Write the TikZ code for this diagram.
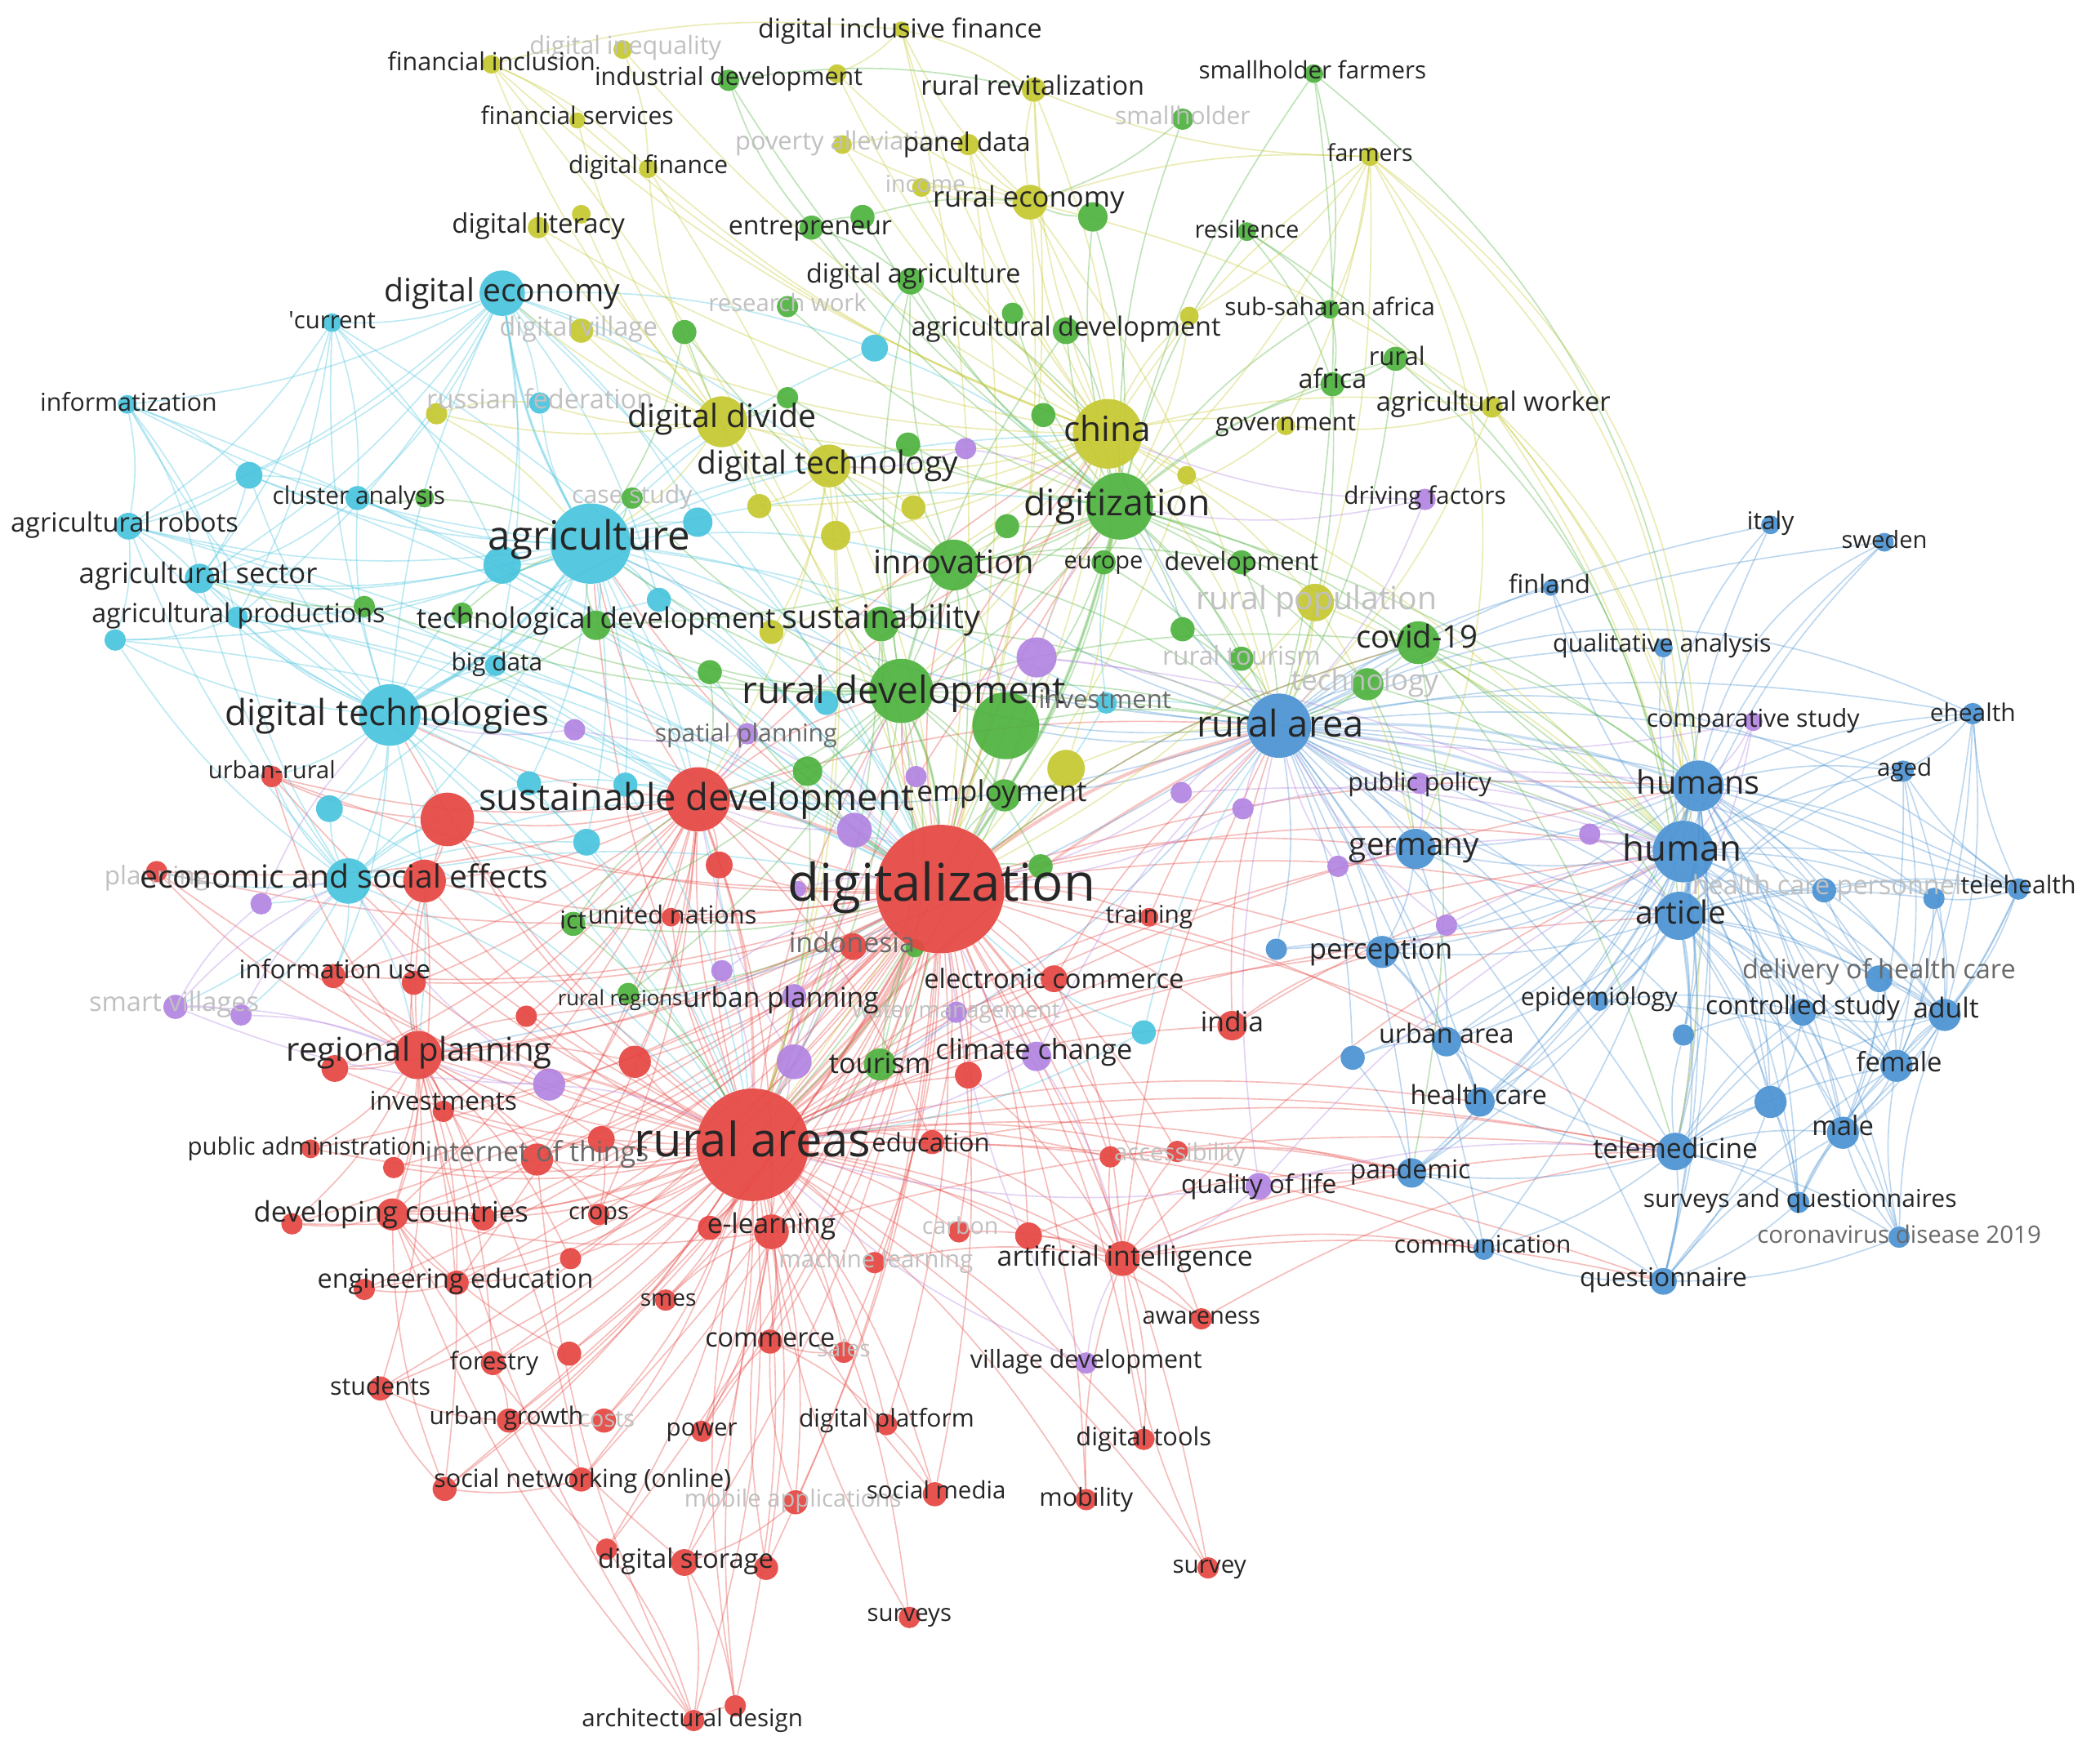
\documentclass[tikz,border=0pt]{standalone}
\usepackage{fontspec}
\setmainfont{Open Sans}
\usepackage{graphicx}
\pgfdeclarelayer{edges}
\pgfdeclarelayer{fadel}
\pgfdeclarelayer{labels}
\pgfsetlayers{edges,main,fadel,labels}
\definecolor{cR}{RGB}{230,70,66}
\definecolor{cG}{RGB}{78,178,62}
\definecolor{cB}{RGB}{74,146,210}
\definecolor{cY}{RGB}{198,200,48}
\definecolor{cP}{RGB}{178,132,226}
\definecolor{cC}{RGB}{72,196,222}
\definecolor{labc}{RGB}{38,38,38}
\definecolor{fadec}{RGB}{192,192,192}
\definecolor{midc}{RGB}{105,105,105}
\tikzset{
  dot/.style={circle,draw=none,inner sep=0pt,fill opacity=0.92},
  lab/.style={inner sep=0pt,text=labc},
  edg/.style={line width=1pt,draw opacity=0.36},
}
\newcommand\dt[5]{\node[dot,fill=#5,minimum size=2*#4pt] (#1) at (#2,#3) {};}
\newcommand\lb[5]{\begin{pgfonlayer}{labels}\node[lab] (#1-l) at (#2,#3) {\resizebox{#4pt}{!}{\vphantom{dg}#5}};\end{pgfonlayer}}
\newcommand\lbm[5]{\begin{pgfonlayer}{labels}\node[lab,text=midc] (#1-l) at (#2,#3) {\resizebox{#4pt}{!}{\vphantom{dg}#5}};\end{pgfonlayer}}
\newcommand\lbf[5]{\begin{pgfonlayer}{fadel}\node[lab,text=fadec] (#1-l) at (#2,#3) {\resizebox{#4pt}{!}{\vphantom{dg}#5}};\end{pgfonlayer}}
\begin{document}
\begin{tikzpicture}[x=1pt,y=-1pt]
\begin{pgfonlayer}{edges}
\fill[white] (0,0) rectangle (1568,1310);
\end{pgfonlayer}
\useasboundingbox (0,0) rectangle (1568,1310);
% ---------------- yellow
\dt{dif}{673}{22}{6}{cY} \lb{dif}{672}{23}{212}{digital inclusive finance}
\dt{dineq}{465}{37}{7}{cY} \lbf{dineq}{467}{36}{143}{digital inequality}
\dt{finc}{367}{48}{7}{cY} \lb{finc}{367}{48}{155}{financial inclusion}
\dt{xy1}{625}{55}{7}{cY}
\dt{rrev}{772}{67}{9}{cY} \lb{rrev}{771}{66}{167}{rural revitalization}
\dt{fserv}{431}{90}{6}{cY} \lb{fserv}{431}{88}{144}{financial services}
\dt{pov}{629}{108}{7}{cY} \lbf{pov}{629}{107}{160}{poverty alleviation}
\dt{panel}{723}{108}{8}{cY} \lb{panel}{722}{108}{95}{panel data}
\dt{dfin}{484}{126}{7}{cY} \lb{dfin}{484}{125}{119}{digital finance}
\dt{income}{688}{140}{7}{cY} \lbf{income}{691}{139}{60}{income}
\dt{reco}{769}{151}{13}{cY} \lb{reco}{768}{149}{143}{rural economy}
\dt{farmers}{1023}{117}{7}{cY} \lb{farmers}{1023}{116}{64}{farmers}
\dt{xy2}{434}{160}{7}{cY}
\dt{dlit}{402}{170}{8}{cY} \lb{dlit}{402}{169}{129}{digital literacy}
\dt{dvill}{434}{247}{9}{cY} \lbf{dvill}{432}{246}{118}{digital village}
\dt{xy3}{888}{236}{7}{cY}
\dt{xy4}{326}{309}{8}{cY}
\dt{ddiv}{539}{315}{19}{cY} \lb{ddiv}{539}{313}{141}{digital divide}
\dt{gov}{960}{318}{7}{cY} \lb{gov}{960}{317}{105}{government}
\dt{agw}{1114}{304}{8}{cY} \lb{agw}{1115}{302}{175}{agricultural worker}
\dt{china}{827}{324}{26}{cY} \lb{china}{827}{323}{65}{china}
\dt{xy5}{886}{355}{7}{cY}
\dt{dtech}{619}{348}{16}{cY} \lb{dtech}{618}{348}{195}{digital technology}
\dt{xy6}{567}{378}{9}{cY} \dt{xy7}{682}{379}{9}{cY} \dt{xy8}{624}{400}{11}{cY} \dt{xy9}{576}{472}{9}{cY}
\dt{rpop}{982}{450}{14}{cY} \lbf{rpop}{983}{449}{180}{rural population}
\dt{xy10}{796}{574}{14}{cY}
% ---------------- green
\dt{indd}{544}{60}{8}{cG} \lb{indd}{544}{59}{200}{industrial development}
\dt{sfarm}{981}{55}{7}{cG} \lb{sfarm}{980}{54}{170}{smallholder farmers}
\dt{shold}{883}{89}{8}{cG} \lbf{shold}{883}{88}{101}{smallholder}
\dt{entr}{606}{170}{9}{cG} \lb{entr}{605}{170}{122}{entrepreneur}
\dt{xg1}{644}{162}{9}{cG}
\dt{xg2}{816}{162}{11}{cG}
\dt{res}{931}{173}{7}{cG} \lb{res}{931}{173}{78}{resilience}
\dt{dagr}{680}{210}{10}{cG} \lb{dagr}{682}{206}{160}{digital agriculture}
\dt{rwork}{588}{229}{8}{cG} \lbf{rwork}{588}{228}{118}{research work}
\dt{xg3}{511}{248}{9}{cG} \dt{xg4}{756}{234}{8}{cG}
\dt{adev}{796}{247}{10}{cG} \lb{adev}{796}{246}{231}{agricultural development}
\dt{ssa}{993}{231}{7}{cG} \lb{ssa}{993}{231}{157}{sub-saharan africa}
\dt{rural}{1042}{268}{9}{cG} \lb{rural}{1043}{268}{42}{rural}
\dt{africa}{995}{287}{9}{cG} \lb{africa}{995}{285}{51}{africa}
\dt{xg5}{588}{297}{8}{cG} \dt{xg6}{678}{332}{9}{cG} \dt{xg7}{779}{310}{9}{cG}
\dt{digz}{836}{378}{25}{cG} \lb{digz}{834}{378}{139}{digitization}
\dt{xg8}{752}{393}{9}{cG}
\dt{innov}{712}{422}{19}{cG} \lb{innov}{712}{422}{120}{innovation}
\dt{europe}{824}{420}{9}{cG} \lb{europe}{824}{420}{59}{europe}
\dt{devt}{927}{420}{9}{cG} \lb{devt}{927}{421}{115}{development}
\dt{cs}{472}{372}{8}{cG} \lbf{cs}{472}{371}{90}{case study}
\dt{xg9}{317}{372}{7}{cG} \dt{xg10}{272}{453}{8}{cG} \dt{xg11}{345}{458}{8}{cG}
\dt{techd}{445}{467}{11}{cG} \lb{techd}{445}{464}{268}{technological development}
\dt{sust}{658}{466}{13}{cG} \lb{sust}{658}{463}{148}{sustainability}
\dt{xg12}{530}{502}{9}{cG}
\dt{rdev}{673}{516}{24}{cG} \lb{rdev}{675}{518}{242}{rural development}
\dt{xg13}{751}{542}{25}{cG}
\dt{xg14}{603}{576}{11}{cG}
\dt{empl}{750}{594}{12}{cG} \lb{empl}{748}{593}{127}{employment}
\dt{xg15}{777}{647}{9}{cG}
\dt{ict}{428}{690}{9}{cG} \lb{ict}{428}{689}{20}{ict}
\dt{xg16}{683}{708}{7}{cG}
\dt{rreg}{469}{742}{8}{cG} \lb{rreg}{463}{747}{93}{rural regions}
\dt{tour}{657}{795}{12}{cG} \lb{tour}{657}{796}{76}{tourism}
\dt{xg17}{883}{470}{9}{cG}
\dt{rtour}{927}{492}{9}{cG} \lbf{rtour}{927}{492}{118}{rural tourism}
\dt{covid}{1059}{480}{16}{cG} \lb{covid}{1058}{478}{91}{covid-19}
\dt{tech}{1021}{511}{12}{cG} \lbf{tech}{1019}{510}{110}{technology}
% ---------------- cyan
\dt{deco}{375}{219}{17}{cC} \lb{deco}{375}{219}{176}{digital economy}
\dt{curr}{248}{241}{7}{cC} \lb{curr}{248}{241}{65}{\textquotesingle current}
\dt{xc1}{653}{260}{10}{cC}
\dt{info}{95}{302}{7}{cC} \lb{info}{96}{302}{132}{informatization}
\dt{rusf}{403}{301}{8}{cC} \lbf{rusf}{403}{300}{169}{russian federation}
\dt{xc2}{186}{355}{10}{cC}
\dt{clus}{267}{372}{9}{cC} \lb{clus}{268}{372}{129}{cluster analysis}
\dt{arob}{96}{393}{10}{cC} \lb{arob}{93}{392}{170}{agricultural robots}
\dt{agri}{441}{406}{30}{cC} \lb{agri}{440}{403}{151}{agriculture}
\dt{xc3}{375}{422}{14}{cC}
\dt{xc4}{521}{390}{11}{cC}
\dt{asec}{149}{432}{11}{cC} \lb{asec}{148}{430}{178}{agricultural sector}
\dt{aprod}{177}{461}{8}{cC} \lb{aprod}{178}{460}{219}{agricultural productions}
\dt{xc5}{86}{478}{8}{cC}
\dt{xc6}{492}{448}{9}{cC}
\dt{bigd}{370}{497}{8}{cC} \lb{bigd}{371}{496}{68}{big data}
\dt{dtechs}{291}{534}{23}{cC} \lb{dtechs}{289}{535}{242}{digital technologies}
\dt{xc7}{246}{604}{10}{cC} \dt{xc8}{395}{585}{9}{cC} \dt{xc9}{467}{586}{9}{cC} \dt{xc10}{438}{629}{10}{cC} \dt{xc11}{617}{525}{9}{cC}
\dt{econ}{260}{658}{17}{cC} \lb{econ}{257}{657}{305}{economic and social effects}
\dt{invt}{826}{525}{8}{cC} \lbm{invt}{825}{524}{99}{investment}
\dt{xc12}{854}{771}{9}{cC}
% ---------------- red
\dt{urr}{203}{580}{8}{cR} \lb{urr}{203}{577}{95}{urban-rural}
\dt{xr1}{334}{612}{20}{cR}
\dt{sdev}{521}{597}{24}{cR} \lb{sdev}{520}{598}{325}{sustainable development}
\dt{xr2}{317}{658}{16}{cR}
\dt{plan}{117}{651}{8}{cR} \lbf{plan}{117}{656}{78}{planning}
\dt{xr3}{537}{646}{10}{cR}
\dt{dz}{702}{664}{48}{cR} \lb{dz}{703}{663}{230}{digitalization}
\dt{un}{501}{685}{7}{cR} \lb{un}{502}{685}{126}{united nations}
\dt{indo}{637}{707}{10}{cR} \lbm{indo}{636}{706}{94}{indonesia}
\dt{infu}{249}{729}{9}{cR} \lb{infu}{250}{726}{143}{information use}
\dt{xr4}{309}{734}{9}{cR}
\dt{ecom}{787}{731}{10}{cR} \lb{ecom}{787}{733}{194}{electronic commerce}
\dt{xr5}{393}{759}{8}{cR}
\dt{rplan}{312}{788}{18}{cR} \lb{rplan}{313}{786}{198}{regional planning}
\dt{xr6}{250}{798}{10}{cR}
\dt{xr7}{474}{793}{12}{cR}
\dt{xr8}{723}{803}{10}{cR}
\dt{inv}{331}{830}{8}{cR} \lb{inv}{331}{824}{110}{investments}
\dt{pubadm}{232}{858}{7}{cR} \lb{pubadm}{229}{858}{178}{public administration}
\dt{xr9}{294}{872}{8}{cR}
\dt{iot}{401}{866}{12}{cR} \lbm{iot}{401}{862}{167}{internet of things}
\dt{xr10}{449}{851}{10}{cR}
\dt{ra}{562}{855}{42}{cR} \lb{ra}{562}{855}{177}{rural areas}
\dt{edu}{696}{853}{9}{cR} \lb{edu}{695}{855}{88}{education}
\dt{train}{858}{685}{7}{cR} \lb{train}{858}{685}{65}{training}
\dt{india}{920}{766}{11}{cR} \lb{india}{920}{765}{47}{india}
\dt{xr11}{829}{864}{8}{cR}
\dt{acc}{879}{860}{8}{cR} \lbf{acc}{881}{862}{98}{accessibility}
\dt{devc}{293}{907}{12}{cR} \lb{devc}{292}{907}{205}{developing countries}
\dt{xr12}{218}{914}{8}{cR} \dt{xr13}{361}{910}{9}{cR}
\dt{crops}{447}{907}{8}{cR} \lb{crops}{447}{906}{45}{crops}
\dt{elearn}{576}{920}{13}{cR} \lb{elearn}{576}{916}{96}{e-learning}
\dt{xr14}{530}{917}{9}{cR}
\dt{carbon}{716}{920}{8}{cR} \lbf{carbon}{717}{917}{57}{carbon}
\dt{xr15}{768}{923}{10}{cR}
\dt{ai}{838}{940}{13}{cR} \lb{ai}{840}{940}{191}{artificial intelligence}
\dt{ml}{653}{943}{8}{cR} \lbf{ml}{654}{942}{145}{machine learning}
\dt{xr16}{426}{940}{8}{cR}
\dt{engedu}{341}{958}{9}{cR} \lb{engedu}{340}{957}{206}{engineering education}
\dt{xr17}{272}{963}{8}{cR}
\dt{smes}{497}{971}{8}{cR} \lb{smes}{499}{971}{42}{smes}
\dt{awar}{897}{985}{8}{cR} \lb{awar}{897}{984}{88}{awareness}
\dt{comm}{575}{1002}{9}{cR} \lb{comm}{575}{1001}{97}{commerce}
\dt{sales}{630}{1010}{8}{cR} \lbf{sales}{630}{1009}{40}{sales}
\dt{xr18}{425}{1011}{9}{cR}
\dt{forest}{368}{1018}{9}{cR} \lb{forest}{369}{1018}{66}{forestry}
\dt{stud}{284}{1037}{9}{cR} \lb{stud}{284}{1037}{75}{students}
\dt{ugrow}{380}{1061}{9}{cR} \lb{ugrow}{378}{1059}{115}{urban growth}
\dt{costs}{451}{1061}{9}{cR} \lbf{costs}{453}{1061}{42}{costs}
\dt{power}{524}{1069}{8}{cR} \lb{power}{524}{1068}{53}{power}
\dt{dplat}{662}{1064}{8}{cR} \lb{dplat}{662}{1061}{131}{digital platform}
\dt{dtools}{854}{1075}{8}{cR} \lb{dtools}{854}{1075}{101}{digital tools}
\dt{snet}{434}{1105}{9}{cR} \lb{snet}{435}{1106}{222}{social networking (online)}
\dt{xr19}{332}{1112}{9}{cR}
\dt{smed}{698}{1116}{9}{cR} \lb{smed}{699}{1115}{104}{social media}
\dt{mapp}{594}{1122}{9}{cR} \lbf{mapp}{592}{1121}{162}{mobile applications}
\dt{mob}{811}{1120}{8}{cR} \lb{mob}{811}{1120}{70}{mobility}
\dt{dstor}{511}{1167}{10}{cR} \lb{dstor}{512}{1166}{131}{digital storage}
\dt{xr20}{453}{1157}{8}{cR} \dt{xr21}{572}{1171}{9}{cR}
\dt{survey}{902}{1171}{8}{cR} \lb{survey}{903}{1170}{55}{survey}
\dt{surveys}{679}{1208}{8}{cR} \lb{surveys}{679}{1206}{63}{surveys}
\dt{arch}{518}{1285}{8}{cR} \lb{arch}{517}{1285}{165}{architectural design}
\dt{xr22}{549}{1274}{8}{cR}
% ---------------- purple
\dt{xp1}{721}{335}{8}{cP}
\dt{drv}{1064}{373}{8}{cP} \lb{drv}{1064}{372}{121}{driving factors}
\dt{xp2}{774}{491}{15}{cP}
\dt{xp3}{429}{545}{8}{cP}
\dt{splan}{558}{548}{8}{cP} \lbm{splan}{557}{549}{136}{spatial planning}
\dt{xp4}{684}{580}{8}{cP}
\dt{xp5}{638}{620}{13}{cP}
\dt{xp6}{596}{664}{6}{cP}
\dt{xp7}{195}{675}{8}{cP}
\dt{svill}{131}{752}{9}{cP} \lbf{svill}{130}{750}{127}{smart villages}
\dt{xp8}{180}{758}{8}{cP}
\dt{xp9}{539}{725}{8}{cP}
\dt{uplan}{593}{744}{9}{cP} \lb{uplan}{583}{747}{146}{urban planning}
\dt{wm}{714}{756}{8}{cP} \lbf{wm}{714}{756}{155}{water management}
\dt{clim}{774}{789}{11}{cP} \lb{clim}{772}{786}{147}{climate change}
\dt{xp10}{593}{793}{13}{cP}
\dt{xp11}{410}{810}{12}{cP}
\dt{xp12}{882}{592}{8}{cP} \dt{xp13}{928}{604}{8}{cP}
\dt{pubpol}{1060}{585}{8}{cP} \lb{pubpol}{1060}{586}{107}{public policy}
\dt{xp14}{999}{647}{8}{cP} \dt{xp15}{1080}{691}{8}{cP} \dt{xp16}{1187}{623}{8}{cP}
\dt{qol}{940}{886}{10}{cP} \lb{qol}{940}{886}{116}{quality of life}
\dt{vdev}{811}{1018}{8}{cP} \lb{vdev}{811}{1017}{173}{village development}
\dt{comp}{1309}{539}{7}{cP} \lb{comp}{1309}{538}{159}{comparative study}
% ---------------- blue
\dt{finl}{1158}{439}{6}{cB} \lb{finl}{1157}{438}{61}{finland}
\dt{italy}{1322}{392}{7}{cB} \lb{italy}{1322}{391}{35}{italy}
\dt{sweden}{1407}{405}{7}{cB} \lb{sweden}{1407}{405}{64}{sweden}
\dt{qual}{1242}{484}{7}{cB} \lb{qual}{1241}{482}{163}{qualitative analysis}
\dt{rarea}{955}{542}{24}{cB} \lb{rarea}{956}{543}{125}{rural area}
\dt{germ}{1057}{634}{15}{cB} \lb{germ}{1056}{633}{97}{germany}
\dt{xb1}{953}{709}{8}{cB}
\dt{perc}{1032}{711}{12}{cB} \lb{perc}{1031}{711}{107}{perception}
\dt{epid}{1194}{748}{7}{cB} \lb{epid}{1194}{746}{117}{epidemiology}
\dt{uarea}{1080}{778}{11}{cB} \lb{uarea}{1080}{774}{101}{urban area}
\dt{xb2}{1010}{790}{9}{cB}
\dt{hcare}{1105}{823}{11}{cB} \lb{hcare}{1104}{820}{102}{health care}
\dt{pand}{1054}{876}{11}{cB} \lb{pand}{1053}{875}{90}{pandemic}
\dt{commn}{1108}{933}{8}{cB} \lb{commn}{1107}{931}{132}{communication}
\dt{ehealth}{1473}{533}{8}{cB} \lb{ehealth}{1473}{534}{64}{ehealth}
\dt{aged}{1421}{576}{8}{cB} \lb{aged}{1422}{575}{41}{aged}
\dt{humans}{1268}{587}{19}{cB} \lb{humans}{1268}{587}{92}{humans}
\dt{human}{1257}{636}{23}{cB} \lb{human}{1256}{636}{89}{human}
\dt{hcp}{1362}{665}{9}{cB} \lbf{hcp}{1364}{663}{201}{health care personnel}
\dt{xb3}{1444}{671}{8}{cB}
\dt{tele}{1507}{664}{8}{cB} \lb{tele}{1507}{663}{86}{telehealth}
\dt{article}{1254}{684}{18}{cB} \lb{article}{1255}{684}{68}{article}
\dt{doh}{1403}{731}{10}{cB} \lbm{doh}{1403}{726}{204}{delivery of health care}
\dt{ctrl}{1346}{756}{10}{cB} \lb{ctrl}{1346}{753}{145}{controlled study}
\dt{adult}{1452}{758}{12}{cB} \lb{adult}{1453}{755}{49}{adult}
\dt{xb4}{1257}{773}{8}{cB}
\dt{female}{1416}{796}{12}{cB} \lb{female}{1418}{795}{64}{female}
\dt{xb5}{1322}{823}{12}{cB}
\dt{male}{1376}{846}{12}{cB} \lb{male}{1376}{843}{46}{male}
\dt{telem}{1251}{860}{14}{cB} \lb{telem}{1251}{860}{123}{telemedicine}
\dt{sq}{1343}{898}{8}{cB} \lb{sq}{1344}{897}{234}{surveys and questionnaires}
\dt{cov19}{1418}{924}{8}{cB} \lbm{cov19}{1418}{924}{212}{coronavirus disease 2019}
\dt{quest}{1242}{957}{10}{cB} \lb{quest}{1242}{956}{125}{questionnaire}
% ---------------- edges
\begin{pgfonlayer}{edges}
% red
\foreach \t in {dz,sdev,xr1,xr2,rplan,infu,xr4,xr5,xr6,xr7,xr8,inv,pubadm,xr9,iot,xr10,edu,train,india,xr11,acc,devc,xr12,xr13,crops,elearn,xr14,carbon,xr15,ai,ml,xr16,engedu,xr17,smes,awar,comm,sales,xr18,forest,stud,ugrow,costs,power,dplat,dtools,snet,xr19,smed,mapp,mob,dstor,xr20,xr21,survey,surveys,arch,xr22,un,indo,ecom,urr,xr3,plan}
  \draw[edg,cR] (ra) to[bend left=10] (\t);
\foreach \t in {sdev,xr1,xr2,xr3,un,indo,ecom,train,india,edu,ai,xr8,rplan,elearn,comm,dplat,smed,carbon,ml,xr15,urr,iot,awar,infu,xr7,xr10,acc,xr11,crops,smes,devc,engedu,forest,stud,ugrow,power,snet,dstor,mapp,sales,costs,xr12,xr13,xr14,xr16,xr17,xr18,xr19,xr20,xr21,pubadm,inv,xr4,xr5,xr6,xr9,plan,dtools,mob,survey}
  \draw[edg,cR] (dz) to[bend left=10] (\t);
\foreach \t in {xr1,xr2,rplan,urr,infu,xr3,un,iot,xr7,inv,xr4,xr5,devc,plan,crops,xr10,elearn,engedu,edu,indo,xr6}
  \draw[edg,cR] (sdev) to[bend left=10] (\t);
\foreach \t in {xr1,xr2,infu,xr4,xr5,xr6,inv,pubadm,xr9,devc,engedu,iot,xr16,plan,xr12,xr13,stud,forest,xr19,urr,crops,xr7,xr10,snet}
  \draw[edg,cR] (rplan) to[bend left=10] (\t);
\foreach \a/\b in {dstor/arch,dstor/xr22,arch/xr22,xr20/arch,elearn/comm,elearn/power,comm/dplat,ai/awar,ai/acc,ai/xr11,ai/dtools,devc/xr12,devc/xr13,engedu/xr17,ugrow/stud,forest/ugrow,snet/xr19,xr19/stud,dplat/smed,mapp/dstor,mob/ai,arch/iot,arch/rplan,xr22/elearn,surveys/elearn,xr19/devc,smed/elearn,mapp/comm,xr21/elearn,xr20/ugrow,dstor/devc,power/comm,costs/ugrow,sales/comm,xr18/devc,xr16/engedu,xr1/xr2,xr1/urr,xr2/econ,survey/ai,arch/devc,xr22/ra,elearn/devc,elearn/iot,xr15/ai,xr8/ai,ecom/ai,edu/ai,xr2/infu,xr2/devc,iot/devc,iot/xr10,xr10/crops,engedu/devc,xr14/elearn,smes/elearn,ml/ai,carbon/ai}
  \draw[edg,cR] (\a) to[bend left=10] (\b);
\foreach \a/\b in {dz/agri,dz/digz,dz/china,dz/rdev,dz/innov,dz/human,ra/agri,ra/econ,ra/dtechs,ra/rdev,ra/human,sdev/agri,sdev/rdev,sdev/dtechs,ra/germ,dz/germ,ra/telem,ra/pand,ai/pand,ai/commn,ai/telem,ai/rarea,dz/humans,ra/article,ecom/rarea,india/rarea,ra/humans,ra/quest,ra/commn,dz/telem,dz/article,ai/human,ai/quest,india/human,edu/telem,elearn/telem,acc/pand,xr11/pand,xr15/pand,awar/telem,dz/perc,dz/uarea,ra/hcare,ra/perc,sdev/rarea,sdev/china,ra/china,ra/digz,sdev/digz,dz/covid,india/perc,train/rarea}
  \draw[edg,cR] (\a) to[bend left=10] (\b);
\draw[cR,line width=3.5pt,draw opacity=0.35] (dz) to[bend left=10] (ra);
\draw[cR,line width=2.5pt,draw opacity=0.3] (dz) to[bend left=10] (rarea);
\draw[cR,line width=2pt,draw opacity=0.3] (ra) to[bend left=10] (rarea);
\draw[cR,line width=2.5pt,draw opacity=0.3] (sdev) to[bend left=10] (dz);
\draw[cR,line width=2pt,draw opacity=0.3] (sdev) to[bend left=10] (ra);
\draw[cR,line width=2pt,draw opacity=0.3] (rplan) to[bend left=10] (ra);
% blue
\foreach \t in {humans,article,rarea,ctrl,adult,female,male,telem,sq,cov19,quest,hcp,xb3,tele,doh,aged,ehealth,epid,xb4,xb5,uarea,hcare,germ,perc,pand,commn,qual,finl,xb1,xb2,sweden,italy}
  \draw[edg,cB] (human) to[bend left=10] (\t);
\foreach \t in {article,rarea,ctrl,adult,female,male,telem,sq,cov19,quest,hcp,tele,doh,aged,ehealth,epid,germ,qual,sweden,xb5,uarea,hcare,xb3,xb4,pand,perc,finl}
  \draw[edg,cB] (humans) to[bend left=10] (\t);
\foreach \t in {ctrl,adult,female,male,telem,sq,quest,doh,hcp,xb4,xb5,epid,uarea,hcare,rarea,cov19,aged,tele,xb3,germ,pand,perc,ehealth}
  \draw[edg,cB] (article) to[bend left=10] (\t);
\foreach \t in {germ,perc,xb1,uarea,xb2,hcare,pand,commn,finl,qual,italy,sweden,agri,digz,china,rdev,telem,quest,ehealth,covid,tech,xb3,epid,sdev,rplan,innov,sust,empl,xg13,tour,xb5,tele,aged,adult,female}
  \draw[edg,cB] (rarea) to[bend left=10] (\t);
\foreach \t in {quest,sq,cov19,xb5,male,female,pand,commn,adult,ctrl,hcare,uarea,doh,xb4}
  \draw[edg,cB] (telem) to[bend left=10] (\t);
\foreach \a/\b in {female/male,female/adult,adult/ctrl,adult/male,ctrl/male,ctrl/female,doh/adult,doh/hcp,tele/ehealth,tele/aged,tele/xb3,ehealth/aged,aged/adult,sq/quest,cov19/quest,cov19/male,xb5/quest,xb5/sq,xb3/female,xb3/adult,ehealth/female,tele/male,sq/female,germ/perc,perc/uarea,uarea/hcare,hcare/pand,pand/commn,quest/commn,xb2/pand,cov19/adult,tele/female,ehealth/male,ehealth/adult,aged/female,aged/male,tele/adult,hcp/tele,hcp/adult,doh/female,doh/male,ctrl/xb5,sq/male,sq/adult,quest/male,quest/female,cov19/female,xb4/ctrl,epid/ctrl,epid/female,germ/uarea,perc/hcare,pand/quest,xb2/uarea,xb1/perc}
  \draw[edg,cB] (\a) to[bend left=10] (\b);
\foreach \a/\b in {ehealth/rarea,tele/rarea,sweden/humans,italy/human}
  \draw[edg,cB] (\a) to[bend right=25] (\b);
\draw[cB,line width=3pt,draw opacity=0.3] (human) to[bend left=10] (humans);
\draw[cB,line width=3pt,draw opacity=0.3] (human) to[bend left=10] (article);
\draw[cB,line width=2.5pt,draw opacity=0.3] (humans) to[bend left=10] (article);
\draw[cB,line width=2pt,draw opacity=0.3] (rarea) to[bend left=10] (human);
\draw[cB,line width=2pt,draw opacity=0.3] (rarea) to[bend left=10] (humans);
% cyan
\foreach \t in {deco,curr,xc1,info,rusf,xc2,clus,arob,xc3,xc4,asec,aprod,xc5,xc6,bigd,dtechs,xc7,xc8,xc9,xc10,xc11,econ,invt,dz,ra,sdev,digz,rdev,innov,china,ddiv,techd,dtech,sust}
  \draw[edg,cC] (agri) to[bend left=10] (\t);
\foreach \t in {deco,arob,asec,aprod,xc5,xc7,econ,bigd,xc8,xc2,clus,info,curr,dz,ra,sdev,rplan,xc10,urr,xc3,xr1,xc9,xc4,xc6,infu}
  \draw[edg,cC] (dtechs) to[bend left=10] (\t);
\foreach \t in {curr,info,rusf,clus,arob,asec,xc2,xc3,xc1,ddiv,dtech,dz,xc4,aprod,bigd,xc6}
  \draw[edg,cC] (deco) to[bend left=10] (\t);
\foreach \t in {xc7,urr,rplan,infu,sdev,xr1,xr2,svill,xp7,dz,ra,xp8,plan,xc10,asec,aprod,xc5,arob,xc8}
  \draw[edg,cC] (econ) to[bend left=10] (\t);
\foreach \a/\b in {curr/clus,curr/arob,curr/asec,curr/xc3,curr/aprod,info/arob,info/asec,info/xc2,info/aprod,arob/asec,asec/aprod,aprod/xc5,arob/xc5,xc2/clus,invt/rarea,invt/dz,xc12/dz,xc12/ra,xc12/rarea,xc1/dagr,xc11/rdev,xc9/sdev,xc8/sdev,xc3/dz,xc4/dz,xc6/dz,xc8/ra,xc9/ra,xc10/ra,xc7/ra,bigd/dz,clus/dz,arob/dz,asec/dz,aprod/dz,asec/ra,info/dz,curr/dz,arob/sdev,asec/sdev,aprod/sdev,xc2/dz,xc5/dz,xc2/asec,xc2/arob,clus/asec,xc3/asec,xc1/digz,xc11/dz,invt/digz}
  \draw[edg,cC] (\a) to[bend left=10] (\b);
\draw[cC,line width=2.5pt,draw opacity=0.3] (agri) to[bend left=10] (dtechs);
\draw[cC,line width=2pt,draw opacity=0.3] (agri) to[bend left=10] (deco);
% green
\foreach \t in {innov,rdev,xg13,china,dagr,adev,entr,xg1,xg2,res,ssa,rural,africa,europe,devt,xg6,xg7,xg8,xg4,covid,tech,xg17,rtour,sust,empl,dz,rarea,sfarm,shold,rwork,xg5,techd,indd}
  \draw[edg,cG] (digz) to[bend left=10] (\t);
\foreach \t in {innov,sust,xg13,xg12,xg14,empl,xg15,tour,rreg,ict,techd,dz,ra,sdev,agri,rarea,dagr,covid,xg3,cs,xg10,xg11,xg16,xg8,xg6,adev}
  \draw[edg,cG] (rdev) to[bend left=10] (\t);
\foreach \t in {sust,xg8,xg6,dtech,dz,xg13,europe,devt,dagr,xg5,xg3}
  \draw[edg,cG] (innov) to[bend left=10] (\t);
\foreach \t in {xg13,empl,xg15,tour,xg16,covid,xg14,xg12,sust,rreg,ict}
  \draw[edg,cG] (dz) to[bend left=10] (\t);
\foreach \a/\b in {covid/rarea,tech/rarea,xg17/rarea,rtour/rarea,sfarm/ssa,shold/reco,res/ssa,ssa/africa,rural/africa,entr/xg1,entr/indd,indd/rrev,xg2/reco,techd/agri,techd/dtechs,xg9/clus,xg9/agri,xg10/asec,xg11/agri,tour/ra,rreg/ra,ict/ra,ict/sdev,covid/human,tech/human,devt/rarea,europe/rarea,covid/humans,dagr/china,adev/china,rdev/human,digz/human,digz/humans,innov/rarea,sust/rarea,sust/ra,empl/ra,xg13/ra,xg13/rarea,xg14/ra,tour/dz,covid/telem,covid/article,covid/pand,tech/germ,res/africa,rural/rarea,africa/rarea,sfarm/rarea,xg2/digz,entr/dagr,xg1/reco,xg3/agri,xg5/ddiv,cs/agri,xg12/sdev,xg14/sdev}
  \draw[edg,cG] (\a) to[bend left=10] (\b);
\foreach \a/\b in {sfarm/humans,res/human,rural/article}
  \draw[edg,cG] (\a) to[bend left=22] (\b);
\draw[cG,line width=2.5pt,draw opacity=0.3] (digz) to[bend left=10] (dz);
\draw[cG,line width=2pt,draw opacity=0.3] (rdev) to[bend left=10] (dz);
\draw[cG,line width=2pt,draw opacity=0.3] (xg13) to[bend left=10] (dz);
% yellow
\foreach \t in {ddiv,dtech,reco,rrev,panel,dif,farmers,gov,agw,xy5,xy3,xy6,xy7,xy8,xy9,xy10,rpop,dvill,dfin,finc,fserv,dlit,income,pov,dineq,xy1,dz,digz,rarea,innov,rdev,human,ra}
  \draw[edg,cY] (china) to[bend left=10] (\t);
\foreach \t in {dtech,dlit,dvill,xy4,dfin,xy6,dz,agri,deco,xy2,fserv,finc,rusf}
  \draw[edg,cY] (ddiv) to[bend left=10] (\t);
\foreach \t in {rrev,panel,income,pov,dif,farmers,agw,xy1,dz,rarea,digz}
  \draw[edg,cY] (reco) to[bend left=10] (\t);
\foreach \t in {xy6,xy7,xy8,xy9,dz,ra,innov,sdev}
  \draw[edg,cY] (dtech) to[bend left=10] (\t);
\foreach \a/\b in {farmers/agw,farmers/gov,farmers/rrev,farmers/xy3,farmers/ssa,agw/rarea,agw/gov,agw/rural,finc/dif,finc/fserv,finc/dfin,dif/rrev,dif/xy1,rpop/rarea,rpop/dz,xy10/dz,xy10/rarea,xy4/rusf,xy4/agri,farmers/rarea,agw/human,dineq/dfin,pov/panel,rrev/dz,rrev/digz,farmers/digz,dif/dz,dfin/dz,finc/dz,rpop/human,rpop/germ,xy8/ra,agw/humans,gov/digz,xy5/dz,xy3/digz,panel/dz,income/reco}
  \draw[edg,cY] (\a) to[bend left=10] (\b);
\foreach \a/\b in {farmers/humans,farmers/human,agw/article,farmers/germ,agw/telem}
  \draw[edg,cY] (\a) to[bend left=25] (\b);
\draw[cY,line width=2pt,draw opacity=0.3] (china) to[bend left=10] (digz);
% purple
\foreach \a/\b in {xp2/dz,xp2/rdev,xp2/digz,xp2/rarea,xp5/dz,xp5/ra,xp5/sdev,clim/dz,clim/ra,clim/ai,clim/wm,uplan/ra,uplan/dz,uplan/xp10,xp10/ra,xp10/dz,xp11/ra,xp11/rplan,xp11/svill,svill/xp8,svill/econ,svill/xp7,svill/rplan,xp8/econ,xp8/rplan,xp7/econ,xp7/dtechs,splan/sdev,splan/dz,splan/xp3,xp3/dtechs,xp9/ra,xp9/dz,pubpol/rarea,pubpol/germ,xp12/rarea,xp12/dz,xp13/rarea,xp13/dz,xp14/rarea,xp14/germ,xp15/perc,xp15/rarea,xp16/human,xp16/humans,comp/humans,comp/human,comp/rarea,drv/digz,drv/china,qol/ai,qol/ra,qol/rarea,qol/pand,vdev/ai,vdev/ra,xp1/digz,xp1/dtech,xp4/dz,xp4/rdev,xp6/dz,wm/ra,pubpol/human,xp14/human,qol/human,xp2/human,xp12/human,xp13/humans,xp16/article,comp/article,xp15/human,clim/rarea,xp10/sdev,xp11/econ,xp5/rdev,qol/telem,vdev/dz,drv/rarea}
  \draw[edg,cP] (\a) to[bend left=10] (\b);
\end{pgfonlayer}
\end{tikzpicture}
\end{document}
